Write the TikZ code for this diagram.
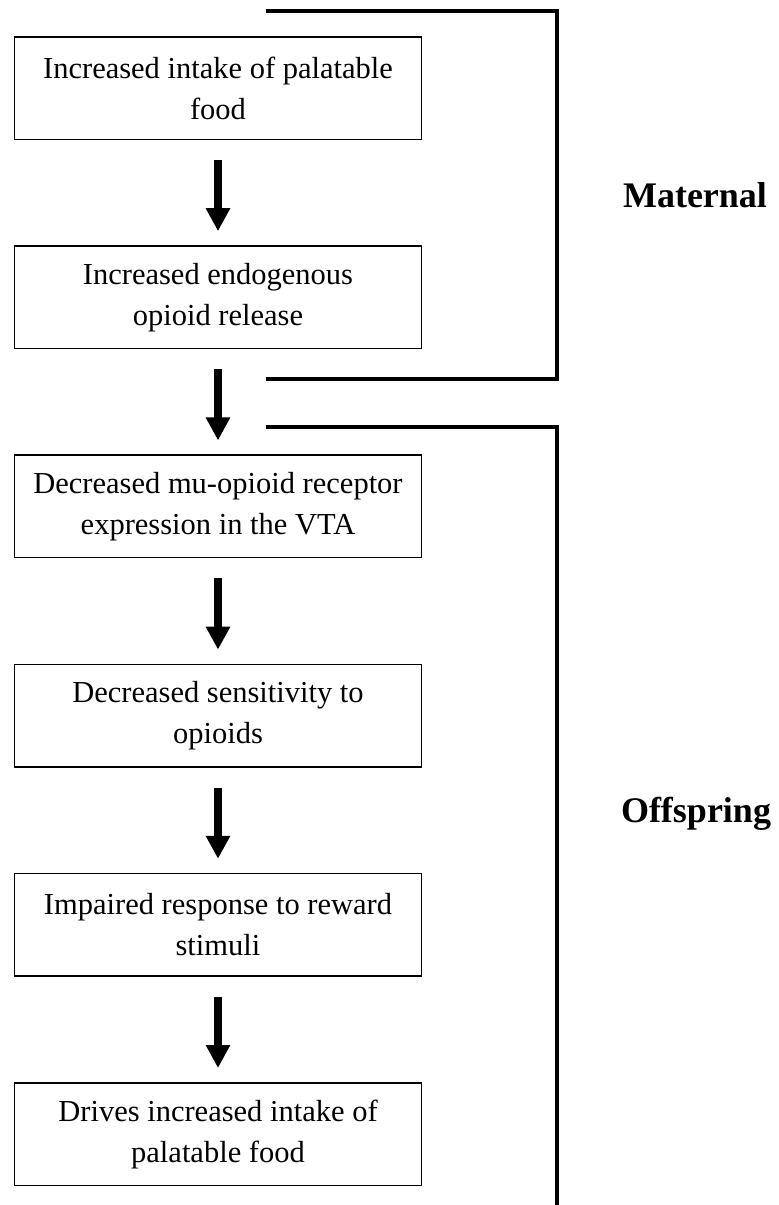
\documentclass[tikz,border=0pt]{standalone}
\usepackage{fontspec}
\setmainfont{Liberation Serif}
\usetikzlibrary{positioning,arrows.meta}

\tikzset{
  stagebox/.style={draw, line width=1.5pt, minimum width=407pt,
                   minimum height=102.5pt, align=center, inner sep=0pt,
                   font=\fontsize{30.5}{41}\selectfont},
  downarrow/.style={line width=8pt, -{Triangle[width=23pt,length=23pt]}},
  bracket/.style={line width=4pt, line join=miter},
  sidelabel/.style={font=\fontsize{36}{40}\selectfont\bfseries}
}

\begin{document}
\begin{tikzpicture}[x=1pt, y=-1pt, node distance=105.2pt]
    \useasboundingbox (0,0) rectangle (779,1205);

    \node [stagebox] (food)  at (218,88) {Increased intake of palatable\\food};
    \node [stagebox, below=of food]  (opioid) {Increased endogenous\\opioid release};
    \node [stagebox, below=of opioid] (mor)   {Decreased mu-opioid receptor\\expression in the VTA};
    \node [stagebox, below=of mor]    (sens)  {Decreased sensitivity to\\opioids};
    \node [stagebox, below=of sens]   (reward){Impaired response to reward\\stimuli};
    \node [stagebox, below=of reward] (drive) {Drives increased intake of\\palatable food};

    \foreach \a/\b in {food/opioid, opioid/mor, mor/sens, sens/reward, reward/drive}
        \draw [downarrow] ([yshift=-20pt]\a.south) -- ([yshift=14pt]\b.north);

    % maternal bracket
    \coordinate (m1) at (266,11);
    \coordinate (m2) at (557,11);
    \coordinate (m3) at (557,379);
    \coordinate (m4) at (266,379);
    \draw [bracket] (m1) -- (m2) -- (m3) -- (m4);

    % offspring bracket
    \coordinate (o1) at (266,427);
    \coordinate (o2) at (557,427);
    \coordinate (o3) at (557,1205);
    \draw [bracket] (o1) -- (o2) -- (o3);

    \node [sidelabel] (maternal)  at (695,195) {Maternal};
    \node [sidelabel] (offspring) at (696,814) {Offspring};
\end{tikzpicture}
\end{document}
